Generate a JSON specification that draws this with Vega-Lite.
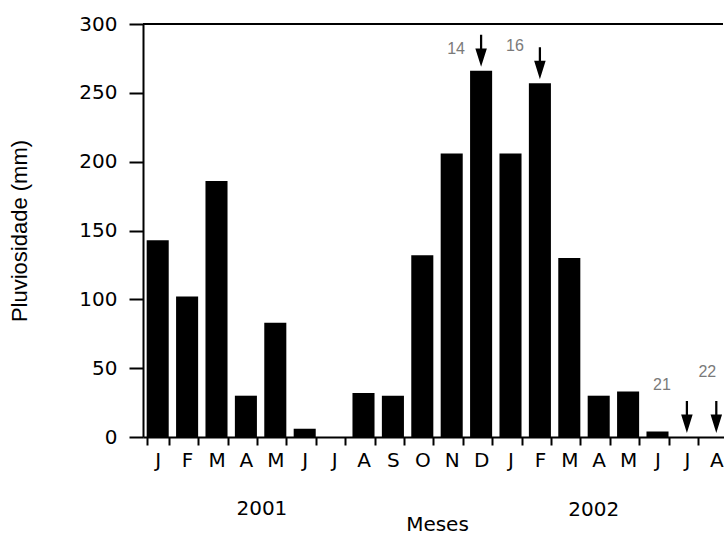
{
  "$schema": "https://vega.github.io/schema/vega-lite/v6.json",
  "width": 580,
  "height": 413,
  "autosize": {"type": "none"},
  "padding": {"left": 143, "top": 24, "right": 1, "bottom": 97},
  "background": "white",
  "config": {"view": {"stroke": null}, "font": "DejaVu Sans"},
  "datasets": {
    "chuva": [
      {"mes": "01 J", "v": 143},
      {"mes": "02 F", "v": 102},
      {"mes": "03 M", "v": 186},
      {"mes": "04 A", "v": 30},
      {"mes": "05 M", "v": 83},
      {"mes": "06 J", "v": 6},
      {"mes": "07 J", "v": 0},
      {"mes": "08 A", "v": 32},
      {"mes": "09 S", "v": 30},
      {"mes": "10 O", "v": 132},
      {"mes": "11 N", "v": 206},
      {"mes": "12 D", "v": 266},
      {"mes": "13 J", "v": 206},
      {"mes": "14 F", "v": 257},
      {"mes": "15 M", "v": 130},
      {"mes": "16 A", "v": 30},
      {"mes": "17 M", "v": 33},
      {"mes": "18 J", "v": 4},
      {"mes": "19 J", "v": 0},
      {"mes": "20 A", "v": 0}
    ],
    "anot": [
      {"mes": "12 D", "v": 266, "rotulo": "14", "ly": 282},
      {"mes": "14 F", "v": 257, "rotulo": "16", "ly": 284},
      {"mes": "19 J", "v": 0, "rotulo": "21", "ly": 38},
      {"mes": "20 A", "v": 0, "rotulo": "22", "ly": 47}
    ]
  },
  "layer": [
    {
      "data": {"name": "chuva"},
      "mark": {"type": "bar", "color": "black"},
      "encoding": {
        "x": {
          "field": "mes",
          "type": "nominal",
          "scale": {
            "domain": ["01 J","02 F","03 M","04 A","05 M","06 J","07 J","08 A","09 S","10 O","11 N","12 D","13 J","14 F","15 M","16 A","17 M","18 J","19 J","20 A"],
            "range": [0, 588],
            "paddingInner": 0.25,
            "paddingOuter": 0.125
          },
          "axis": {
            "labelExpr": "isString(datum.value) ? slice(datum.value, 3) : ''",
            "labelAngle": 0,
            "labelFont": "DejaVu Sans",
            "labelFontSize": 20,
            "labelColor": "black",
            "labelPadding": 5,
            "tickBand": "extent",
            "tickSize": 8,
            "tickWidth": 2,
            "tickColor": "black",
            "domainColor": "black",
            "domainWidth": 2,
            "title": "Meses",
            "titleFont": "DejaVu Sans",
            "titleFontSize": 20,
            "titleFontWeight": "normal",
            "titleColor": "black",
            "titlePadding": 44
          }
        },
        "y": {
          "field": "v",
          "type": "quantitative",
          "scale": {"domain": [0, 300], "nice": false},
          "axis": {
            "values": [0, 25, 50, 75, 100, 125, 150, 175, 200, 225, 250, 275, 300],
            "labelExpr": "datum.value % 50 === 0 ? datum.label : ''",
            "grid": false,
            "tickSize": {"condition": {"test": "datum.value % 50 === 0", "value": 14}, "value": 9},
            "tickWidth": 2,
            "tickColor": "black",
            "domainColor": "black",
            "domainWidth": 2,
            "labelFont": "DejaVu Sans",
            "labelFontSize": 20,
            "labelColor": "black",
            "labelPadding": 12,
            "title": "Pluviosidade (mm)",
            "titleFont": "Liberation Sans",
            "titleFontSize": 22,
            "titleFontWeight": "normal",
            "titleColor": "black",
            "titlePadding": 47
          }
        }
      }
    },
    {
      "data": {"values": [{}]},
      "mark": {"type": "rule", "color": "black", "strokeWidth": 2},
      "encoding": {"y": {"datum": 300}}
    },
    {
      "data": {"name": "anot"},
      "mark": {
        "type": "point",
        "shape": "M -0.07 -1 L 0.07 -1 L 0.07 -0.15 L 0.36 -0.15 L 0 1 L -0.36 -0.15 L -0.07 -0.15 Z",
        "size": 1024,
        "filled": true,
        "color": "black",
        "opacity": 1,
        "strokeWidth": 0,
        "yOffset": -20
      },
      "encoding": {
        "x": {"field": "mes", "type": "nominal"},
        "y": {"field": "v", "type": "quantitative"}
      }
    },
    {
      "data": {"name": "anot"},
      "transform": [{"filter": "datum.rotulo != '22'"}],
      "mark": {"type": "text", "font": "Liberation Sans", "fontSize": 16, "color": "#7a7a7a", "dx": -25, "baseline": "middle"},
      "encoding": {
        "x": {"field": "mes", "type": "nominal"},
        "y": {"field": "ly", "type": "quantitative"},
        "text": {"field": "rotulo"}
      }
    },
    {
      "data": {"name": "anot"},
      "transform": [{"filter": "datum.rotulo == '22'"}],
      "mark": {"type": "text", "font": "Liberation Sans", "fontSize": 16, "color": "#7a7a7a", "dx": -9, "baseline": "middle"},
      "encoding": {
        "x": {"field": "mes", "type": "nominal"},
        "y": {"field": "ly", "type": "quantitative"},
        "text": {"field": "rotulo"}
      }
    },
    {
      "data": {"values": [{"mes": "04 A", "ano": "2001"}]},
      "mark": {"type": "text", "font": "DejaVu Sans", "fontSize": 20, "color": "black", "dx": 16, "baseline": "middle"},
      "encoding": {
        "x": {"field": "mes", "type": "nominal"},
        "y": {"datum": -52},
        "text": {"field": "ano"}
      }
    },
    {
      "data": {"values": [{"mes": "16 A", "ano": "2002"}]},
      "mark": {"type": "text", "font": "DejaVu Sans", "fontSize": 20, "color": "black", "dx": -5, "baseline": "middle"},
      "encoding": {
        "x": {"field": "mes", "type": "nominal"},
        "y": {"datum": -53},
        "text": {"field": "ano"}
      }
    }
  ]
}
